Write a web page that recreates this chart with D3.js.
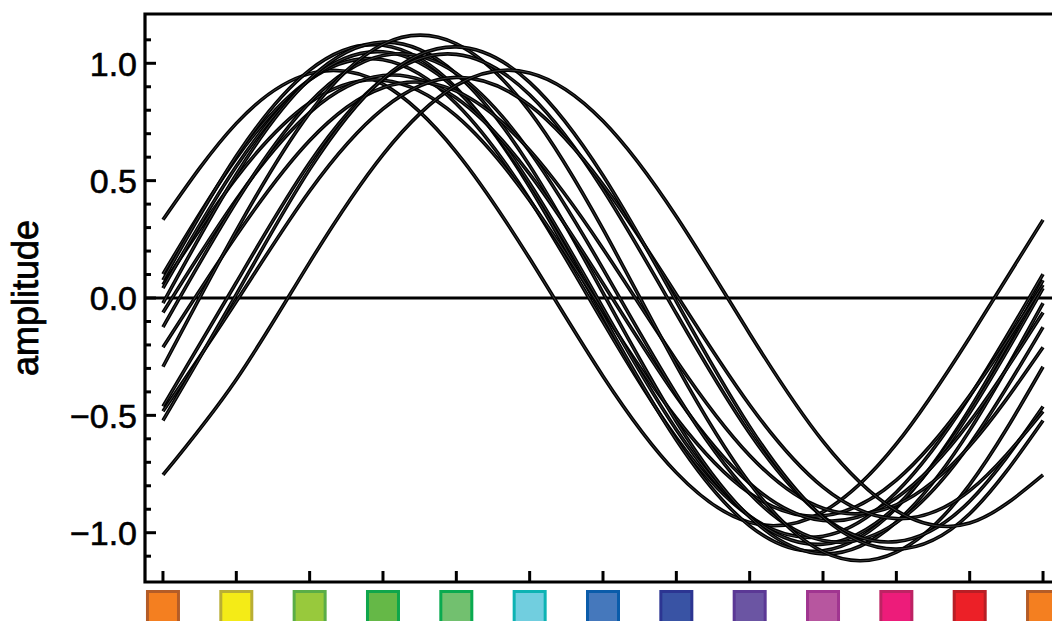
<!DOCTYPE html>
<html>
<head>
<meta charset="utf-8">
<script src="https://cdn.jsdelivr.net/npm/d3@7"></script>
<style>
  body { margin: 0; background: #fff; }
  text { font-family: "Liberation Sans", Arial, sans-serif; }
</style>
</head>
<body>
<svg id="mainsvg" width="1052" height="621"></svg>
<script>
// x positions of the samples / ticks
const steps = [0, 1, 2, 3, 4, 5, 6, 7, 8, 9, 10, 11, 12];

// amplitude of each wave read at every tick
const waves = [
  [0.333, 0.744, 0.956, 0.911, 0.622, 0.168, -0.333, -0.744, -0.956, -0.911, -0.622, -0.168, 0.333],
  [0.102, 0.596, 0.930, 1.015, 0.828, 0.420, -0.102, -0.596, -0.930, -1.015, -0.828, -0.420, 0.102],
  [0.076, 0.605, 0.971, 1.077, 0.895, 0.473, -0.076, -0.605, -0.971, -1.077, -0.895, -0.473, 0.076],
  [0.056, 0.512, 0.832, 0.928, 0.776, 0.416, -0.056, -0.512, -0.832, -0.928, -0.776, -0.416, 0.056],
  [0.042, 0.561, 0.929, 1.049, 0.887, 0.489, -0.042, -0.561, -0.929, -1.049, -0.887, -0.489, 0.042],
  [-0.022, 0.526, 0.933, 1.090, 0.955, 0.564, 0.022, -0.526, -0.933, -1.090, -0.955, -0.564, -0.022],
  [-0.062, 0.420, 0.790, 0.948, 0.852, 0.528, 0.062, -0.420, -0.790, -0.948, -0.852, -0.528, -0.062],
  [-0.124, 0.410, 0.833, 1.033, 0.957, 0.624, 0.124, -0.410, -0.833, -1.033, -0.957, -0.624, -0.124],
  [-0.210, 0.266, 0.671, 0.896, 0.881, 0.630, 0.210, -0.266, -0.671, -0.896, -0.881, -0.630, -0.210],
  [-0.293, 0.287, 0.789, 1.081, 1.083, 0.795, 0.293, -0.287, -0.789, -1.081, -1.083, -0.795, -0.293],
  [-0.462, 0.066, 0.576, 0.932, 1.038, 0.866, 0.462, -0.066, -0.576, -0.932, -1.038, -0.866, -0.462],
  [-0.483, -0.015, 0.456, 0.806, 0.940, 0.821, 0.483, 0.015, -0.456, -0.806, -0.940, -0.821, -0.483],
  [-0.522, 0.015, 0.548, 0.934, 1.070, 0.919, 0.522, -0.015, -0.548, -0.934, -1.070, -0.919, -0.522],
  [-0.754, -0.347, 0.152, 0.611, 0.906, 0.959, 0.754, 0.347, -0.152, -0.611, -0.906, -0.959, -0.754]
];

// colour swatches used as x tick labels
const swatchFill = ['#F47F20', '#F4EB17', '#98C93C', '#65B847', '#72C06F', '#71CEDF', '#4578BC',
  '#3953A4', '#6B55A3', '#B7569F', '#ED1C7A', '#EC2027', '#F47F20'];
const swatchStroke = ['#B45C27', '#B9AE34', '#5AAD47', '#0FA64B', '#0AAA50', '#0DB3B3', '#0A5CAA',
  '#2C3592', '#5B3895', '#A03590', '#BD2363', '#B81E25', '#B45C27'];

const yMajor = [-1, -0.5, 0, 0.5, 1];
const yMinor = [-1.1, -0.9, -0.8, -0.7, -0.6, -0.4, -0.3, -0.2, -0.1, 0.1, 0.2, 0.3, 0.4, 0.6, 0.7, 0.8, 0.9, 1.1];

const svg = d3.select('#mainsvg');
const plotL = 145, plotR = 1061, plotT = 14, plotB = 582;

const xScale = d3.scaleLinear().domain([-0.245, 12.245]).range([plotL, plotR]);
const yScale = d3.scaleLinear().domain([-1.21, 1.21]).range([plotB, plotT]);

const g = svg.append('g');

// frame
g.append('path')
  .attr('d', `M${plotR},${plotT}H${plotL}V${plotB}H${plotR}`)
  .attr('fill', 'none').attr('stroke', '#000').attr('stroke-width', 3.2);

// y ticks (pointing inward)
g.selectAll('.ymajor').data(yMajor).join('line').attr('class', 'ymajor')
  .attr('x1', plotL).attr('x2', plotL + 11)
  .attr('y1', d => yScale(d)).attr('y2', d => yScale(d))
  .attr('stroke', '#000').attr('stroke-width', 3);
g.selectAll('.yminor').data(yMinor).join('line').attr('class', 'yminor')
  .attr('x1', plotL).attr('x2', plotL + 6)
  .attr('y1', d => yScale(d)).attr('y2', d => yScale(d))
  .attr('stroke', '#000').attr('stroke-width', 3);

g.selectAll('.ylabel').data(yMajor).join('text').attr('class', 'ylabel')
  .attr('x', 137).attr('y', d => yScale(d))
  .attr('dy', '0.36em')
  .attr('text-anchor', 'end')
  .attr('font-size', 34)
  .attr('stroke', '#000').attr('stroke-width', 0.6)
  .text(d => d3.format('.1f')(d).replace('-', '\u2212'));

g.append('text')
  .attr('transform', `translate(38, ${yScale(0)}) rotate(-90)`)
  .attr('text-anchor', 'middle')
  .attr('font-size', 36)
  .attr('stroke', '#000').attr('stroke-width', 0.8)
  .text('amplitude');

// x ticks
g.selectAll('.xtick').data(steps).join('line').attr('class', 'xtick')
  .attr('x1', d => xScale(d)).attr('x2', d => xScale(d))
  .attr('y1', plotB).attr('y2', plotB - 11)
  .attr('stroke', '#000').attr('stroke-width', 3);

// colour swatch labels
g.selectAll('.swatch').data(steps).join('rect').attr('class', 'swatch')
  .attr('x', d => xScale(d) - 15.5)
  .attr('y', 591.5)
  .attr('width', 31).attr('height', 31)
  .attr('fill', (d, i) => swatchFill[i])
  .attr('stroke', (d, i) => swatchStroke[i])
  .attr('stroke-width', 3);

// zero line
g.append('line')
  .attr('x1', plotL).attr('x2', plotR)
  .attr('y1', yScale(0)).attr('y2', yScale(0))
  .attr('stroke', '#000').attr('stroke-width', 3.2);

// waves
const line = d3.line()
  .x((d, i) => xScale(steps[i]))
  .y(d => yScale(d))
  .curve(d3.curveNatural);

const waveGroups = g.selectAll('.wave').data(waves).join('g').attr('class', 'wave');
waveGroups.append('path')
  .attr('d', line)
  .attr('fill', 'none')
  .attr('stroke', '#000')
  .attr('stroke-width', 3.6);
waveGroups.append('path')
  .attr('d', line)
  .attr('fill', 'none')
  .attr('stroke', '#fff')
  .attr('stroke-opacity', 0.35)
  .attr('stroke-width', 0.7);
</script>
</body>
</html>
